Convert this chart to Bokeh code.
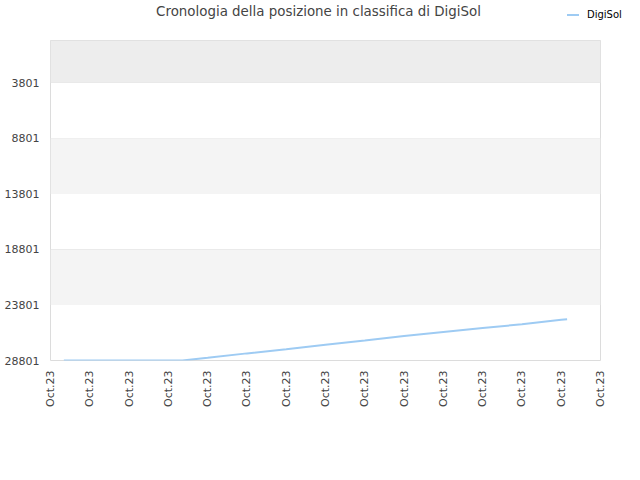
from bokeh.plotting import figure
from bokeh.models import Range1d, FixedTicker, BoxAnnotation, Div
from bokeh.layouts import column
from bokeh.embed import file_html
from bokeh.resources import INLINE
import math

# ---- data ----
title_text = "Cronologia della posizione in classifica di DigiSol"
series_name = "DigiSol"
tick_positions = list(range(15))
tick_labels = ["Oct.23"] * 15
y_ticks = [3801, 8801, 13801, 18801, 23801, 28801]
x_vals = [0.34, 3.36, 4, 5, 6, 7, 8, 9, 10, 11, 12, 13, 13.15]
rank_vals = [28801, 28801, 28558, 28160, 27790, 27380, 27000, 26600, 26240, 25880, 25540, 25137, 25083]
# shaded bands (bottom, top) in rank units
bands = [(-10, 3801, "#ededed"), (8801, 13801, "#f4f4f4"), (18801, 23801, "#f4f4f4")]

FONT = "DejaVu Sans"
LINE_COLOR = "#9ecbf3"

# ---- header: title + legend (outside the plot frame) ----
header_html = (
    f'<div style="position:relative;width:640px;height:40px;margin:0;padding:0;font-family:\'{FONT}\';">'
    f'<span style="position:absolute;left:0px;top:4px;width:637px;text-align:center;font-size:13.4px;'
    f'line-height:16px;color:#444444;white-space:nowrap;">{title_text}</span>'
    f'<span style="position:absolute;left:567px;top:14px;width:12px;height:0px;'
    f'border-top:2px solid {LINE_COLOR};"></span>'
    f'<span style="position:absolute;left:587px;top:8px;font-size:10px;line-height:14px;'
    f'color:#000000;white-space:nowrap;">{series_name}</span>'
    f'</div>'
)
head = Div(text=header_html, width=640, height=40, margin=0)

# ---- main chart ----
p = figure(width=640, height=440, output_backend="svg", toolbar_location=None,
           x_range=Range1d(0, 14), y_range=Range1d(28801, -10),
           min_border_left=50, min_border_right=40, min_border_top=0, min_border_bottom=120)

for b, t, c in bands:
    p.add_layout(BoxAnnotation(bottom=b, top=t, fill_color=c, fill_alpha=1.0, line_color=None, level="underlay"))

r = p.line(x_vals, rank_vals, line_color=LINE_COLOR, line_width=2)

p.outline_line_color = "#dcdcdc"
p.background_fill_color = "white"
p.border_fill_color = "white"

p.xgrid.grid_line_color = None
p.ygrid.grid_line_color = "#e0e0e0"
p.ygrid.ticker = FixedTicker(ticks=y_ticks)

p.xaxis.ticker = FixedTicker(ticks=tick_positions)
p.xaxis.major_label_overrides = {i: lab for i, lab in zip(tick_positions, tick_labels)}
p.xaxis.major_label_orientation = math.pi / 2
p.yaxis.ticker = FixedTicker(ticks=y_ticks)

for ax in (p.xaxis[0], p.yaxis[0]):
    ax.axis_line_color = None
    ax.major_tick_line_color = None
    ax.minor_tick_line_color = None
    ax.major_tick_out = 0
    ax.major_tick_in = 0
    ax.minor_tick_out = 0
    ax.major_label_text_font = FONT
    ax.major_label_text_font_size = "11px"
    ax.major_label_text_color = "#444444"
p.xaxis.major_label_standoff = 10
p.yaxis.major_label_standoff = 11

layout = column(head, p, spacing=0)
open("out.html", "w").write(file_html(layout, INLINE))
